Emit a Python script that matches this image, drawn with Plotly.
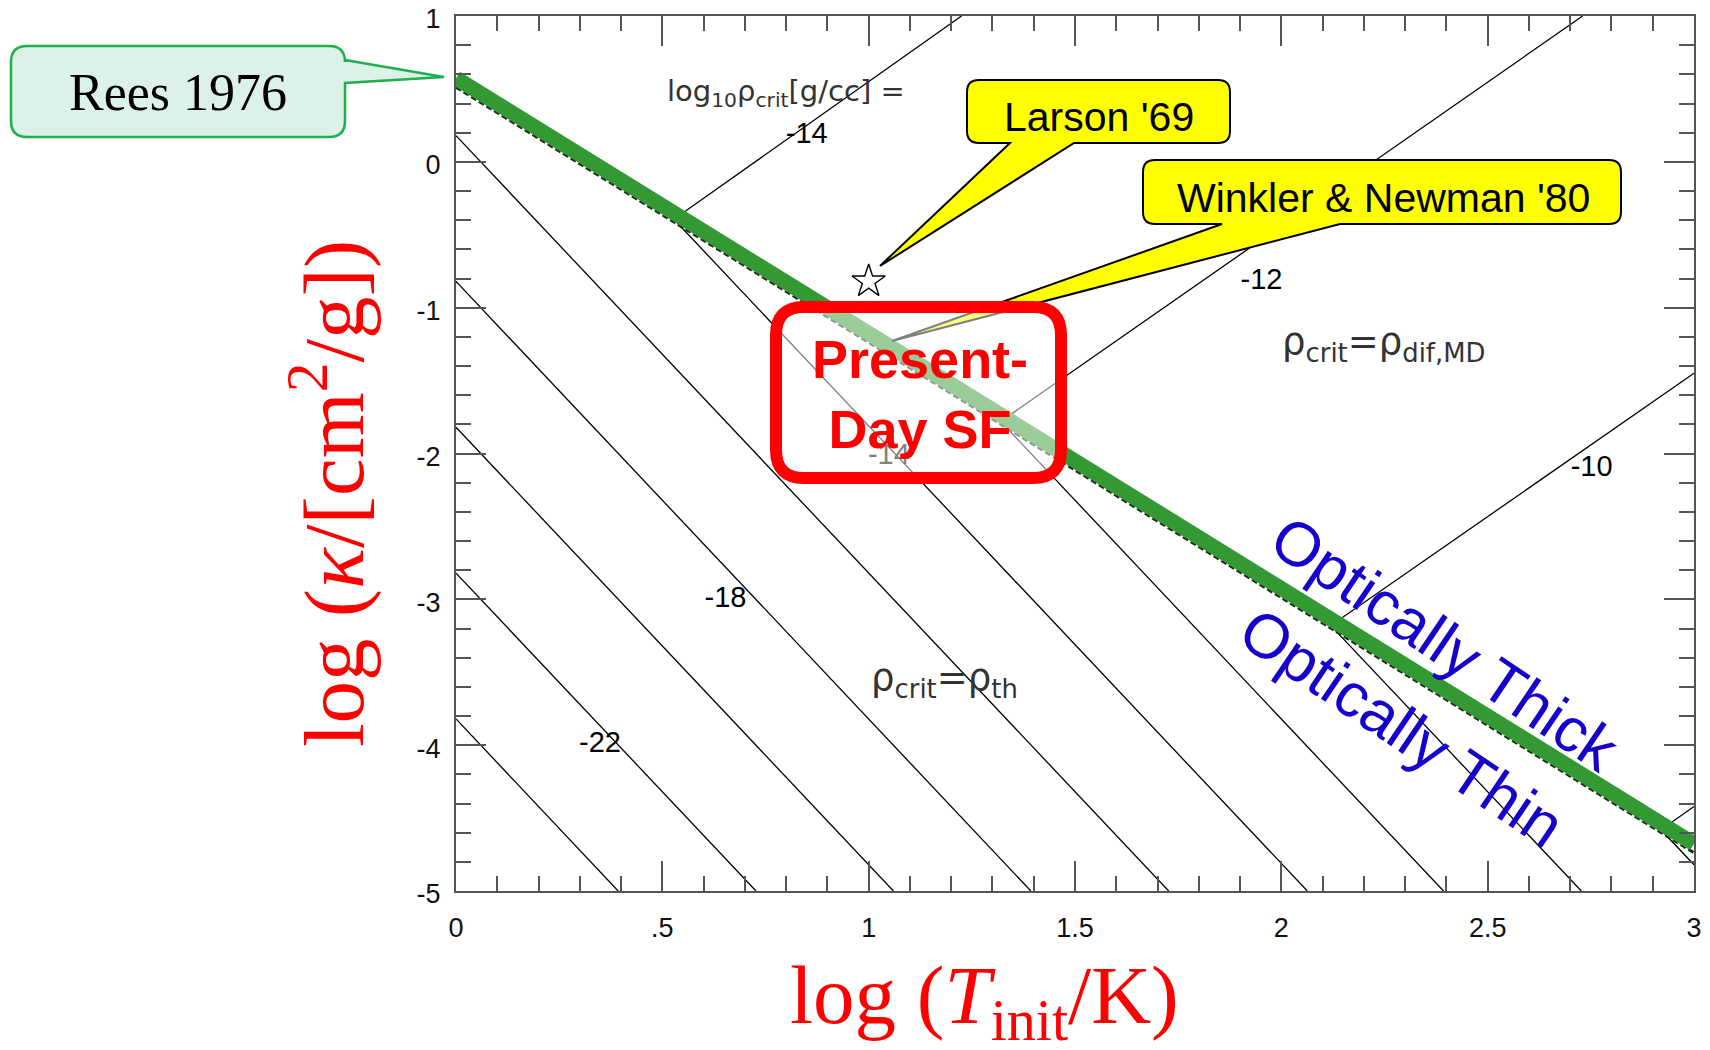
import plotly.graph_objects as go

# The page body has an 8px margin; the figure is sized so that the
# plot area lands at the reference's screen position.
OFF = 8
W, H = 1694, 1034
ML, MR, MT, MB = 448, 8, 8, 151
PW = W - ML - MR
PH = H - MT - MB


def px(x):
    return (x - OFF - ML) / PW


def py(y):
    return (H - MB - (y - OFF)) / PH


# ---------------- data ----------------
x_range = [0, 3]
y_range = [-5, 1]
x_tickvals = [0, 0.5, 1, 1.5, 2, 2.5, 3]
x_ticktext = ["0", ".5", "1", "1.5", "2", "2.5", "3"]
y_tickvals = [-5, -4, -3, -2, -1, 0, 1]
y_ticktext = ["-5", "-4", "-3", "-2", "-1", "0", "1"]

# Rees 1976 optically thick/thin boundary
rees_x = [0.0, 3.0]
rees_y = [0.574, -4.676]
# dashed tau=1 boundary (just below the thick green band)
tau_x = [0.0, 3.0]
tau_y = [0.512, -4.738]

# log10 rho_crit contours (kinked at the boundary)
contour_levels = [-24, -22, -20, -18, -16, -14, -12, -10, -8]
contour_x = [
    [0.0, 0.393],
    [0.0, 0.727],
    [0.0, 1.060],
    [0.0, 1.393],
    [0.0, 1.727],
    [1.225, 0.528, 2.063],
    [2.730, 1.320, 2.393],
    [3.000, 2.120, 2.727],
    [3.000, 2.920, 3.000],
]
contour_y = [
    [-3.82, -5.0],
    [-2.82, -5.0],
    [-1.82, -5.0],
    [-0.82, -5.0],
    [0.18, -5.0],
    [1.0, -0.394, -5.0],
    [1.0, -1.780, -5.0],
    [-1.45, -3.180, -5.0],
    [-4.42, -4.580, -4.82],
]
label_x = [0.850, 1.952, 2.752, 0.653, 0.349, 1.049]
label_y = [0.180, -0.820, -2.105, -3.000, -4.000, -2.020]
label_text = ["-14", "-12", "-10", "-18", "-22", "-14"]

# Larson '69 point
larson_x = [1.0]
larson_y = [-0.82]

# ---------------- figure ----------------
fig = go.Figure()

for cx, cy, lev in zip(contour_x, contour_y, contour_levels):
    fig.add_trace(go.Scatter(x=cx, y=cy, mode="lines",
                             line=dict(color="black", width=1.3),
                             hoverinfo="skip", showlegend=False, name=str(lev)))

fig.add_trace(go.Scatter(x=tau_x, y=tau_y, mode="lines",
                         line=dict(color="#222", width=3, dash="6px,3px"),
                         showlegend=False, hoverinfo="skip"))
fig.add_trace(go.Scatter(x=rees_x, y=rees_y, mode="lines",
                         line=dict(color="#339933", width=15),
                         showlegend=False, name="Rees 1976"))

fig.add_trace(go.Scatter(x=label_x, y=label_y, mode="text", text=label_text,
                         textfont=dict(family="Liberation Sans", size=29, color="black"),
                         showlegend=False, hoverinfo="skip"))

fig.add_trace(go.Scatter(x=larson_x, y=larson_y, mode="markers",
                         marker=dict(symbol="star-open", size=25, color="black",
                                     line=dict(width=1.4, color="black")),
                         showlegend=False, name="Larson '69"))


def P(x, y):
    return f"{px(x):.5f},{py(y):.5f}"


def callout(x0, y0, x1, y1, r, side=None, a=None, b=None, tip=None):
    d = f"M {P(x0 + r, y0)} L {P(x1 - r, y0)} Q {P(x1, y0)} {P(x1, y0 + r)}"
    if side == "right":
        d += f" L {P(x1, a)} L {P(*tip)} L {P(x1, b)}"
    d += f" L {P(x1, y1 - r)} Q {P(x1, y1)} {P(x1 - r, y1)}"
    if side == "bottom":
        d += f" L {P(b, y1)} L {P(*tip)} L {P(a, y1)}"
    d += f" L {P(x0 + r, y1)} Q {P(x0, y1)} {P(x0, y1 - r)} L {P(x0, y0 + r)} Q {P(x0, y0)} {P(x0 + r, y0)} Z"
    return d


shapes = [
    dict(type="path", xref="paper", yref="paper", layer="above",
         path=callout(11, 46, 345, 137, 16, "right", 60, 83, (444, 77)),
         fillcolor="#dcf2e8", line=dict(color="#1db04d", width=2.5)),
    dict(type="path", xref="paper", yref="paper", layer="above",
         path=callout(967, 80, 1230, 143, 12, "bottom", 1010, 1074, (880, 266)),
         fillcolor="#ffff00", line=dict(color="black", width=2)),
    dict(type="path", xref="paper", yref="paper", layer="above",
         path=callout(1143, 160, 1621, 224, 12, "bottom", 1222, 1340, (892, 341)),
         fillcolor="#ffff00", line=dict(color="black", width=2)),
    dict(type="path", xref="paper", yref="paper", layer="above",
         path=callout(776, 307, 1061, 478, 28),
         fillcolor="rgba(255,255,255,0.5)", line=dict(color="#ff0000", width=12)),
]

ann = []


def A(text, x, y, size, color="black", family="Liberation Sans", angle=0, **kw):
    ann.append(dict(text=text, x=px(x), y=py(y), xref="paper", yref="paper",
                    showarrow=False, textangle=angle, xanchor="center", yanchor="middle",
                    font=dict(family=family, size=size, color=color), **kw))


A("Rees 1976", 178, 92, 52, family="Liberation Serif")
A("Larson '69", 1099, 117, 41)
A("Winkler &amp; Newman '80", 1383, 198, 41)
A("<b>Present-<br>Day SF</b>", 920, 394, 54, color="#ff0000")
A("Optically Thick", 1445, 643, 62, color="#1500cc", angle=34)
A("Optically Thin", 1402, 727, 62, color="#1500cc", angle=34)
A("log (<i>T</i><sub>init</sub>/K)", 984, 1001, 83, color="#ff0000", family="Liberation Serif")
A("log (<i>κ</i>/[cm<sup>2</sup>/g])", 328, 494, 85, color="#ff0000",
  family="Liberation Serif", angle=-90)

phys_font = dict(family="DejaVu Sans", size=29, color="#333")
ann.append(dict(text="log<sub>10</sub>ρ<sub>crit</sub>[g/cc] =", x=0.80, y=0.47,
                xref="x", yref="y", showarrow=False, font=phys_font))
ann.append(dict(text="ρ<sub>crit</sub>=ρ<sub>dif,MD</sub>", x=2.247, y=-1.25,
                xref="x", yref="y", showarrow=False,
                font=dict(family="DejaVu Sans", size=37, color="#333")))
ann.append(dict(text="ρ<sub>crit</sub>=ρ<sub>th</sub>", x=1.184, y=-3.55,
                xref="x", yref="y", showarrow=False,
                font=dict(family="DejaVu Sans", size=37, color="#333")))

axcol = "#555"
tickfont = dict(family="Liberation Sans", size=27, color="#111")

fig.update_layout(
    width=W, height=H,
    margin=dict(l=ML, r=MR, t=MT, b=MB, pad=0, autoexpand=False),
    paper_bgcolor="white", plot_bgcolor="white",
    shapes=shapes, annotations=ann,
    xaxis=dict(range=x_range, tickmode="array", tickvals=x_tickvals, ticktext=x_ticktext,
               ticks="inside", ticklen=30, tickwidth=1.5, tickcolor=axcol, automargin=False,
               showline=True, linecolor=axcol, linewidth=2, mirror="allticks",
               showgrid=False, zeroline=False, tickfont=tickfont, ticklabelstandoff=12,
               ticklabeloverflow="allow",
               minor=dict(ticks="inside", ticklen=15, tickwidth=1.5, tickcolor=axcol,
                          tickmode="linear", tick0=0, dtick=0.1, showgrid=False)),
    yaxis=dict(range=y_range, tickmode="array", tickvals=y_tickvals, ticktext=y_ticktext,
               ticks="inside", ticklen=30, tickwidth=1.5, tickcolor=axcol, automargin=False,
               showline=True, linecolor=axcol, linewidth=2, mirror="allticks",
               showgrid=False, zeroline=False, tickfont=tickfont, ticklabelstandoff=8,
               ticklabelshift=3, ticklabeloverflow="allow",
               minor=dict(ticks="inside", ticklen=15, tickwidth=1.5, tickcolor=axcol,
                          tickmode="linear", tick0=0, dtick=0.2, showgrid=False)),
)

fig.write_html("out.html")
